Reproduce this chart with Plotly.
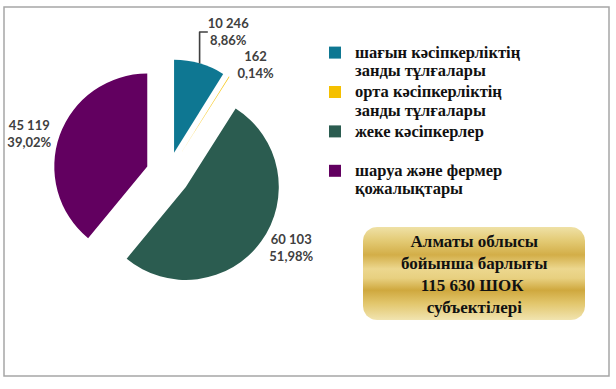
import numpy as np
import plotly.graph_objects as go

categories = [
    "шағын кәсіпкерліктің<br>занды тұлғалары",
    "орта кәсіпкерліктің<br>занды тұлғалары",
    "жеке кәсіпкерлер<br> ",
    "шаруа және фермер<br>қожалықтары",
]
values = [10246, 162, 60103, 45119]
colors = ["#0e7792", "#f5c000", "#2b5c50", "#620060"]
box_lines = ["Алматы облысы", "бойынша барлығы", "115 630 ШОК ", "субъектілері"]

W, H = 616, 389
SERIF = "Liberation Serif, Times New Roman, serif"


def styled(label):
    return "<br>".join(
        f"<span style=\"font-family:'Liberation Serif',serif;font-size:16.5px;font-weight:bold\">{part}</span>"
        for part in label.split("<br>")
    )


fig = go.Figure()

fig.add_trace(go.Pie(
    labels=[styled(c) for c in categories],
    values=values,
    sort=False,
    direction="clockwise",
    rotation=0,
    pull=[0.237] * 4,
    marker=dict(colors=colors, line=dict(width=0)),
    textposition="outside",
    texttemplate="<b>%{value:,}<br>%{percent:.2%}</b>",
    textfont=dict(family="Lato, Open Sans, sans-serif", size=13, color="#404040"),
    hoverinfo="value+percent",
    domain=dict(x=[(168 - 115) / W, (168 + 115) / W], y=[1 - 289 / H, 1 - 59 / H]),
    showlegend=True,
    automargin=False,
))

# rounded gold box
x0, x1, y0, y1, rad = 363, 585, 227, 320, 14
pts = []
for cx, cy, a0 in [(x1 - rad, y0 + rad, -90), (x1 - rad, y1 - rad, 0), (x0 + rad, y1 - rad, 90), (x0 + rad, y0 + rad, 180)]:
    a = np.radians(np.linspace(a0, a0 + 90, 12))
    for t in a:
        pts.append((cx + rad * np.cos(t), cy + rad * np.sin(t)))
pts.append(pts[0])
bx = [p[0] for p in pts]
by = [p[1] for p in pts]
fig.add_trace(go.Scatter(
    x=bx, y=by, mode="lines", fill="toself", line=dict(width=0, color="rgba(0,0,0,0)"),
    fillgradient=dict(type="vertical", start=y0, stop=y1, colorscale=[
        [0.0, "#efe1a6"], [0.15, "#e3ca74"], [0.3, "#d3ae48"], [0.45, "#ecd78e"],
        [0.55, "#e8d080"], [0.68, "#cfa83e"], [0.82, "#e2c66c"], [1.0, "#f1e4b0"]]),
    showlegend=False, hoverinfo="skip", xaxis="x", yaxis="y",
))

fig.add_annotation(
    x=(x0 + x1) / 2, y=(y0 + y1) / 2 + 1, xref="x", yref="y",
    text="<b>" + "<br>".join(box_lines) + "</b>", showarrow=False, align="center",
    font=dict(family=SERIF, size=17, color="#111111"),
)

fig.update_layout(
    width=W, height=H,
    margin=dict(l=0, r=0, t=0, b=0),
    paper_bgcolor="white", plot_bgcolor="rgba(0,0,0,0)",
    separators=", ",
    xaxis=dict(range=[0, W], visible=False, domain=[0, 1], fixedrange=True),
    yaxis=dict(range=[H, 0], visible=False, domain=[0, 1], fixedrange=True),
    legend=dict(
        x=315 / W, y=1 - 37 / H, xanchor="left", yanchor="top", valign="top",
        font=dict(family=SERIF, size=14, color="#111111"),
        bgcolor="rgba(0,0,0,0)", itemclick=False,
    ),
    shapes=[dict(type="rect", xref="paper", yref="paper",
                 x0=4 / W, x1=609 / W, y0=1 - 376 / H, y1=1 - 7 / H,
                 line=dict(color="#a6a6a6", width=1.5), layer="below")],
)

fig.write_html("out.html", config={"displayModeBar": False},
               post_script="document.body.style.margin='0';")
